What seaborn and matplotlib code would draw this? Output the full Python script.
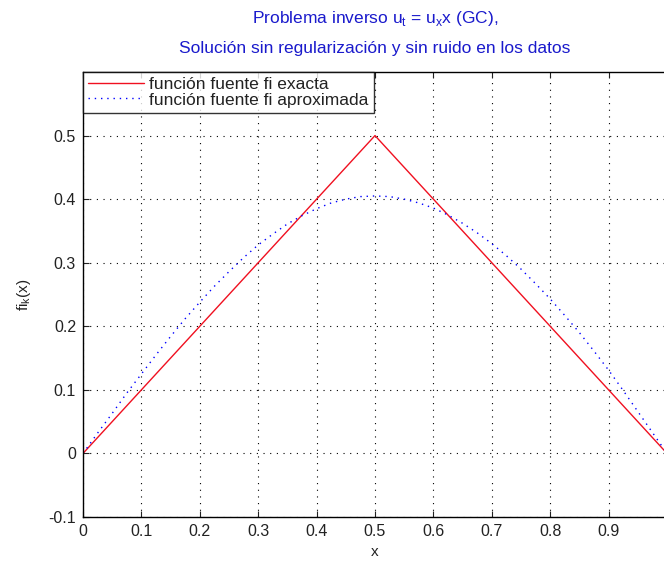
import matplotlib
matplotlib.use("Agg")
import matplotlib.pyplot as plt
import seaborn as sns
import pandas as pd

# x grid of the plotted samples
x_vals = [0.000, 0.025, 0.050, 0.075, 0.100, 0.125, 0.150, 0.175, 0.200, 0.225,
          0.250, 0.275, 0.300, 0.325, 0.350, 0.375, 0.400, 0.425, 0.450, 0.475,
          0.500, 0.525, 0.550, 0.575, 0.600, 0.625, 0.650, 0.675, 0.700, 0.725,
          0.750, 0.775, 0.800, 0.825, 0.850, 0.875, 0.900, 0.925, 0.950, 0.975,
          1.000]
# exact source function (triangle)
fi_exacta = [0.000, 0.025, 0.050, 0.075, 0.100, 0.125, 0.150, 0.175, 0.200, 0.225,
             0.250, 0.275, 0.300, 0.325, 0.350, 0.375, 0.400, 0.425, 0.450, 0.475,
             0.500, 0.475, 0.450, 0.425, 0.400, 0.375, 0.350, 0.325, 0.300, 0.275,
             0.250, 0.225, 0.200, 0.175, 0.150, 0.125, 0.100, 0.075, 0.050, 0.025,
             0.000]
# approximate source function
fi_aprox = [0.000, 0.032, 0.063, 0.095, 0.125, 0.155, 0.184, 0.212, 0.238, 0.263,
            0.286, 0.308, 0.328, 0.345, 0.361, 0.374, 0.385, 0.394, 0.400, 0.404,
            0.405, 0.404, 0.400, 0.394, 0.386, 0.375, 0.362, 0.347, 0.330, 0.311,
            0.290, 0.267, 0.243, 0.217, 0.190, 0.161, 0.131, 0.099, 0.066, 0.033,
            0.000]

labels = ["función fuente fi exacta", "función fuente fi aproximada"]
x_ticks = [0, 0.1, 0.2, 0.3, 0.4, 0.5, 0.6, 0.7, 0.8, 0.9]
y_ticks = [-0.1, 0, 0.1, 0.2, 0.3, 0.4, 0.5]

df = pd.DataFrame({"x": x_vals + x_vals,
                   "y": fi_exacta + fi_aprox,
                   "serie": [labels[0]] * len(x_vals) + [labels[1]] * len(x_vals)})

sns.set_style("white")
plt.rcParams["font.family"] = ["Liberation Sans", "DejaVu Sans"]

fig = plt.figure(figsize=(6.64, 5.61), dpi=100)
ax = fig.add_axes([83 / 664, 44 / 561, 584 / 664, 445 / 561])

sns.lineplot(data=df, x="x", y="y", hue="serie", style="serie",
             palette={labels[0]: "#f01020", labels[1]: "#0000ff"},
             dashes={labels[0]: "", labels[1]: (1, 3.5)},
             linewidth=1.0, ax=ax, legend=True)

ax.set_xlim(0, 1)
ax.set_ylim(-0.1, 0.6)
ax.set_xticks(x_ticks)
ax.set_xticklabels(["0" if t == 0 else f"{t:g}" for t in x_ticks])
ax.set_yticks(y_ticks)
ax.set_yticklabels(["0" if t == 0 else f"{t:g}" for t in y_ticks])
ax.tick_params(direction="in", length=4, width=0.8, labelsize=11.5, colors="#222222",
               top=True, bottom=True, left=True, right=False, pad=5)
ax.grid(True, color="black", linestyle=(0, (1, 5)), linewidth=0.8)
for s in ax.spines.values():
    s.set_color("black")
    s.set_linewidth(1.0)

ax.set_xlabel("x", fontsize=11, labelpad=4, color="#222222")
ax.set_ylabel("fi$_\\mathregular{k}$(x)", fontsize=11, labelpad=11, color="#222222")
ax.set_title("Problema inverso u$_\\mathregular{t}$ = u$_\\mathregular{x}$x (GC),\n"
             "Solución sin regularización y sin ruido en los datos",
             color="#1a1acc", fontsize=12.5, linespacing=2.05, pad=14)

leg = ax.legend(loc="upper left", frameon=True, fancybox=False, fontsize=12.5,
                borderaxespad=0, handlelength=3.2, handletextpad=0.3,
                borderpad=0.3, labelspacing=0.0)
leg.get_frame().set_edgecolor("black")
leg.get_frame().set_linewidth(1.0)
for t in leg.get_texts():
    t.set_color("#222222")

fig.savefig("out.png", dpi=100)
